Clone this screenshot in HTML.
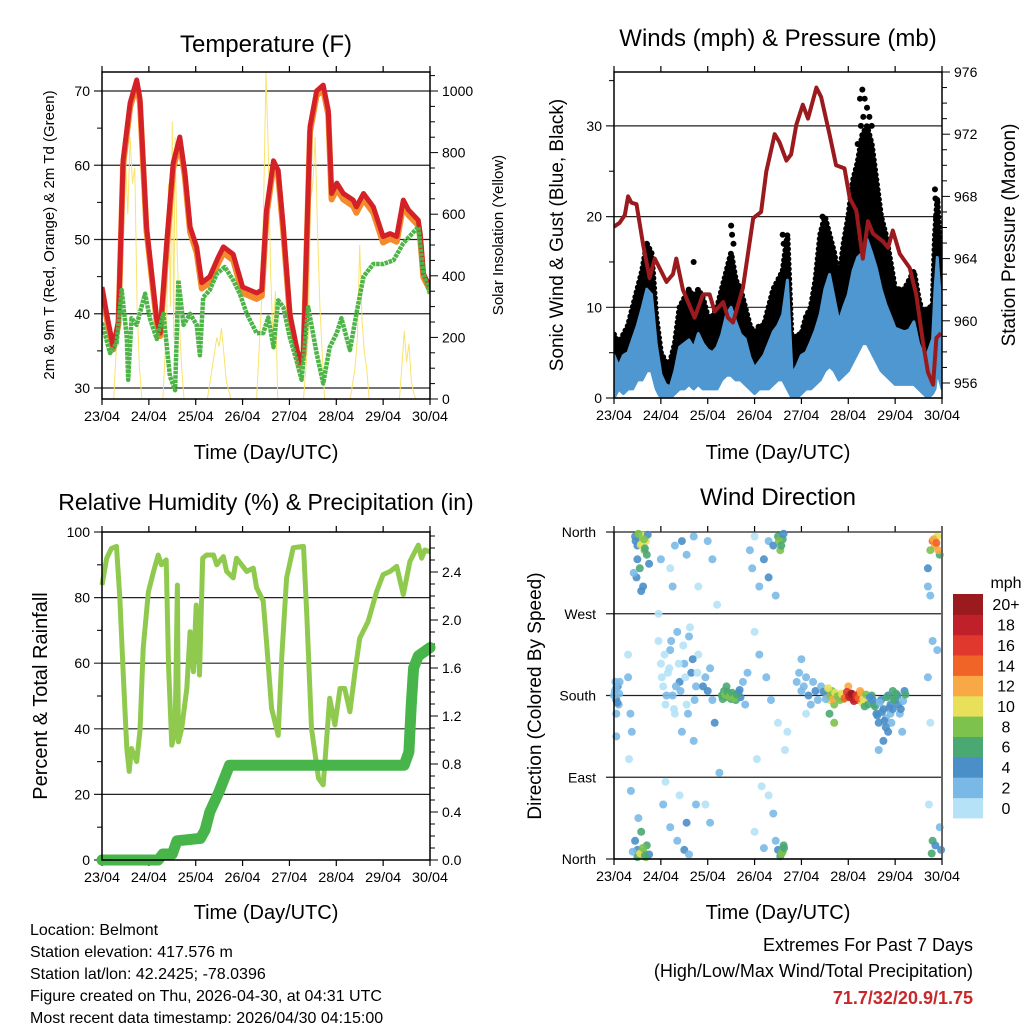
<!DOCTYPE html>
<html><head><meta charset="utf-8"><style>
html,body{margin:0;padding:0;background:#fff}
svg{display:block}
text{font-family:"Liberation Sans",sans-serif;fill:#000}
</style></head><body>
<svg id="root" width="1024" height="1024" viewBox="0 0 1024 1024" xmlns="http://www.w3.org/2000/svg">
<g id="g"></g>
</svg>
<script>
// ---------- DATA ----------
const dayLabels=["23/04","24/04","25/04","26/04","27/04","28/04","29/04","30/04"];
// Temperature (F)
const tempT=[0,0.1,0.24,0.35,0.45,0.6,0.74,0.81,0.95,1.17,1.24,1.38,1.52,1.66,1.77,1.88,2.02,2.13,2.3,2.48,2.59,2.8,3.0,3.3,3.41,3.51,3.66,3.76,3.87,4.01,4.22,4.3,4.44,4.58,4.72,4.83,4.9,5.01,5.15,5.36,5.43,5.58,5.79,5.93,6.0,6.15,6.29,6.43,6.54,6.75,6.79,6.86,7.0];
const temp2m=[43.6,40.0,35.5,39,60.7,68.4,71.5,69,51.7,39.2,37.4,49.5,60.3,63.8,59,51.7,49,44.2,45,47.6,49,48,43.6,42.8,43.2,54,60.6,59.3,51.7,40,33.4,35,65.2,70,70.8,67.4,56.2,57.6,56.2,55.3,54.4,56.2,54.4,51.7,50.4,50.8,50.4,55.3,54,52.6,50.8,45.4,43.6];
const temp9m=[43.2,39.4,35.2,38.5,60.0,67.8,70.9,68.4,51.2,38.8,37.0,48.8,59.6,63.1,58.4,51.0,48.2,43.4,44.2,46.8,48.2,47.2,42.8,42.0,42.4,53.3,59.9,58.6,51.0,39.5,33.0,34.6,64.5,69.4,70.2,66.8,55.4,56.8,55.4,54.5,53.6,55.4,53.6,50.9,49.6,50.1,49.7,54.6,53.3,51.9,50.2,44.9,43.2];
const tdT=[0,0.17,0.31,0.42,0.53,0.56,0.63,0.74,0.92,1.02,1.17,1.31,1.45,1.56,1.63,1.74,1.88,2.02,2.09,2.16,2.3,2.45,2.62,2.8,2.94,3.09,3.3,3.44,3.55,3.66,3.76,3.87,4.01,4.15,4.26,4.4,4.58,4.72,4.86,5.01,5.11,5.29,5.43,5.58,5.79,6.0,6.22,6.43,6.75,6.86,7.0];
const dewpoint=[38.8,34.7,36,43.2,36.8,31.1,39.4,38.5,42.7,39.4,36.6,40,31.6,29.7,44.5,38.5,40,38.5,34.4,42.2,43.2,45.4,46.3,44.5,42.7,40,37.4,37.4,39.5,35.5,41.8,40.9,36.8,33.7,31.1,40.9,34.7,30.6,35.5,37.4,39.4,35.1,40,45,46.7,46.7,47.2,49.5,51.7,45.4,42.7];
const solarT=[0.25,0.35,0.4,0.45,0.5,0.55,0.6,0.65,0.7,0.75,0.8,0.85,1.3,1.38,1.42,1.46,1.5,1.53,1.56,1.6,1.65,1.7,1.75,2.25,2.35,2.45,2.5,2.55,2.6,2.65,2.75,3.3,3.4,3.45,3.5,3.55,3.6,3.65,3.7,3.75,4.3,4.4,4.45,4.5,4.55,4.6,4.65,4.7,4.75,5.3,5.4,5.45,5.5,5.55,5.6,5.65,5.7,6.35,6.42,6.45,6.5,6.55,6.6,6.65,6.7];
const solarW=[0,300,500,750,800,600,850,700,750,300,100,0,0,250,700,300,900,200,850,500,250,100,0,0,100,200,170,230,150,60,0,0,300,650,1060,800,400,200,350,0,0,200,650,700,850,550,300,150,0,0,100,200,500,250,150,100,0,0,150,220,120,180,60,20,0];
// Winds (mph)
const windT=[0,0.1,0.2,0.3,0.4,0.5,0.6,0.7,0.8,0.9,1.0,1.1,1.2,1.3,1.4,1.5,1.6,1.7,1.8,1.9,2.0,2.1,2.2,2.3,2.4,2.5,2.6,2.7,2.8,2.9,3.0,3.1,3.2,3.3,3.4,3.5,3.6,3.7,3.8,3.9,4.0,4.1,4.2,4.3,4.4,4.5,4.6,4.7,4.8,4.9,5.0,5.1,5.2,5.3,5.4,5.5,5.6,5.7,5.8,5.9,6.0,6.1,6.2,6.3,6.4,6.5,6.6,6.7,6.8,6.85,6.9,6.95,7.0];
const speedLow=[0,1,0.5,1,1,2,2,3,3,1,0,0,0,0.5,1,1,1.5,1,1.5,1,1,1,1,2,2.5,2.5,2,2,1.5,1,0.5,1,1,1,1.5,2,2,1,0,0,0.5,1,1,1.5,2,3,3.5,3,2,2.5,3,4,5,6,6,5,4,3,2.5,2,1.5,1.5,1.5,1.5,1.5,1,0.5,0,0.5,1,3,2,1];
const speedHigh=[4.7,3.5,4.7,5,6.5,8,9.9,12,11.4,6,2.6,1.5,1.2,3,5.6,6,6.4,5.5,7.1,6,5.3,5,5.6,7,9.2,10,8.4,7,6.5,4.5,3.3,4,4.7,6,7.3,8,9.2,13,2.6,3.5,4.7,5,6.2,7.5,9.2,12,13.6,11,8.4,10,11.4,14,15.5,16,17.5,16,14.3,12,10.3,9,7.7,7.5,7.3,7.5,8.4,6,4.7,5,6.5,12,15.5,12,9.2];
const gustHigh=[7,6,7,8,10,12,14,17,16,9,5,4,4,6,10,11,12,11,12,11,9,9,10,12,14,16,13,12,10,8,7,8,8,10,12,13,14,18,5,7,7,9,10,13,18,20,18,16,13,17,20,24,26,29,30,28,24,20,18,15,12,12,12,13,14,11,9,10,10,18,22,17,14];
const gustOutT=[0.7,0.72,1.7,2.5,2.52,2.55,3.6,3.62,4.45,4.47,5.2,5.25,5.3,5.32,5.35,5.4,5.45,5.5,5.27,5.42,6.85,6.86,6.87];
const gustOutV=[17,16,15,19,18,17,18,17,20,19,28,33,34,31,33,32,31,30,30,27,23,22,20];
// Pressure (mb)
const presT=[0,0.12,0.23,0.3,0.37,0.48,0.62,0.76,0.87,0.97,1.12,1.26,1.33,1.47,1.72,1.9,2.04,2.15,2.33,2.43,2.54,2.75,2.97,3.14,3.25,3.43,3.53,3.68,3.78,3.89,4.03,4.14,4.32,4.42,4.6,4.74,4.92,5.03,5.17,5.31,5.42,5.53,5.74,5.85,5.95,6.1,6.31,6.45,6.59,6.7,6.81,6.88,6.98];
const pressure=[966.05,966.3,966.8,968.0,967.6,967.5,964.9,962.75,964,963.4,962.5,963,964.0,962,960.2,961.7,961.7,960.6,961.2,960.2,959.9,962.1,966.6,967.0,969.6,972,971.5,970.3,970.7,972.6,973.9,973.0,975,974.4,972,970.0,969.8,967.9,967.1,964,966.4,965.6,965.1,964.7,965.8,964.3,963.4,961.7,958.7,956.7,955.9,958.9,959.2];
// RH (%) and precipitation (in)
const rhT=[0,0.1,0.2,0.31,0.38,0.46,0.53,0.58,0.63,0.74,0.81,0.88,0.99,1.1,1.2,1.27,1.37,1.42,1.49,1.56,1.61,1.63,1.7,1.81,1.88,1.95,2.01,2.08,2.15,2.23,2.38,2.45,2.59,2.66,2.8,2.87,3.09,3.23,3.3,3.44,3.51,3.62,3.76,3.84,3.94,4.08,4.3,4.37,4.47,4.62,4.72,4.86,4.97,5.08,5.18,5.29,5.4,5.5,5.68,5.86,6.0,6.15,6.29,6.43,6.57,6.75,6.82,6.89,7.0];
const rhVals=[83.8,92,95,95.6,80,54.4,34.1,27,34,30,39.5,64.6,81.8,87.9,93,90,91.5,59.5,35,39.1,83.8,36,40.1,52.3,69.6,57.4,77.7,56.4,92,93,93,90,92.5,88,86,92,88,89,83,79,66.6,46.2,38,62.6,86,95.2,95.6,74.8,40.1,24.9,22.9,49.3,41.2,52.3,52.3,45.2,57.4,67.6,72.7,81.8,87,88,89.5,80.9,91,96,92,94.5,94];
const precipT=[0,1.2,1.3,1.5,1.6,2.1,2.2,2.3,2.5,2.65,2.72,6.45,6.55,6.6,6.65,6.75,7.0];
const precipVals=[0,0,0.05,0.05,0.16,0.18,0.25,0.4,0.57,0.72,0.79,0.79,0.9,1.3,1.6,1.7,1.77];
// Wind direction observations
const dirT=[0.45,0.5,0.55,0.6,0.62,0.65,0.68,0.7,0.72,0.5,0.55,0.48,0.62,0.58,0.42,0.75,
0.45,0.5,0.55,0.6,0.63,0.68,0.7,0.58,0.52,0.75,0.4,
0.02,0.05,0.08,0.1,0.12,0.05,0.3,0.35,0.38,0.32,0.36,0.3,0.05,
0.95,1.0,1.05,1.1,1.15,1.2,1.25,1.3,1.35,1.4,1.45,1.5,1.55,1.6,1.65,1.7,1.75,1.8,1.0,1.2,1.3,1.45,1.55,1.7,1.8,1.25,1.05,1.2,1.35,1.5,1.55,1.6,1.4,1.75,0.95,1.1,
1.9,1.95,2.0,2.05,2.1,2.15,2.0,2.1,2.2,2.05,2.25,1.95,
2.3,2.35,2.4,2.45,2.5,2.55,2.6,2.65,2.7,2.4,2.75,2.8,2.85,
2.9,2.95,3.0,3.1,3.2,3.3,3.4,3.5,3.55,3.6,3.3,3.45,3.0,3.1,3.25,3.35,3.5,3.05,3.15,3.3,3.4,3.45,3.5,3.55,3.6,3.62,3.0,3.2,3.65,3.7,
3.9,3.95,4.0,4.05,4.1,4.15,4.2,4.25,4.3,4.35,4.1,4.0,
4.5,4.55,4.6,4.65,4.7,4.75,4.8,4.85,4.9,4.95,5.0,5.05,5.1,5.15,5.2,5.25,5.3,5.35,5.0,4.6,4.7,
5.5,5.55,5.6,5.65,5.7,5.75,5.8,5.85,5.9,5.95,6.0,6.05,6.1,6.15,6.2,5.75,5.65,
6.8,6.85,6.9,6.75,6.95,6.7,6.7,6.75,6.8,6.7,6.75,6.72,6.8,6.95,6.98,6.9,
0.46,0.52,0.57,0.64,0.66,0.5,0.56,0.61,0.66,0.0,0.04,0.07,0.11,0.03,1.02,1.08,1.12,1.18,1.22,1.28,1.32,1.38,1.42,1.48,1.52,1.58,1.62,1.68,1.72,1.78,
2.32,2.37,2.42,2.47,2.52,2.57,2.62,2.68,3.52,3.57,3.62,3.58,3.63,
4.42,4.47,4.52,4.57,4.62,4.67,4.72,4.77,4.82,4.87,4.92,4.97,5.02,5.07,5.12,5.17,5.22,5.27,5.32,5.38,5.42,5.46,
5.52,5.57,5.62,5.67,5.72,5.77,5.82,5.87,5.92,5.97,6.02,6.07,6.12,6.17,6.22,5.8,5.85,5.9,5.95,
6.82,6.88,6.92,6.78,6.86];
const dirDeg=[355,345,352,348,356,340,350,335,357,330,320,310,300,295,315,325,
20,10,5,3,8,2,15,30,45,5,8,
185,175,190,170,195,160,200,160,140,110,75,225,135,
240,215,190,170,205,230,180,160,250,195,140,215,170,245,205,130,190,225,330,320,345,350,335,355,300,300,60,35,20,10,40,5,70,60,270,85,
190,200,185,210,175,150,350,330,280,40,95,60,
180,185,178,182,176,180,175,183,178,190,195,170,205,
340,320,355,300,330,350,345,355,340,352,310,290,250,225,200,175,150,110,80,70,50,20,10,3,8,15,30,12,120,140,
195,205,185,190,200,180,170,195,185,175,160,220,
185,180,175,185,170,180,178,182,176,180,178,182,176,180,175,185,172,168,190,160,150,
180,170,160,150,175,165,155,180,170,185,175,180,160,140,185,130,120,
350,345,355,340,335,320,300,290,240,200,150,60,20,35,10,230,
350,358,346,352,342,2,6,12,4,180,188,172,182,195,200,225,180,210,240,165,190,215,185,235,200,160,255,220,175,205,
176,181,184,179,183,177,181,186,350,345,358,6,12,
190,184,176,188,180,176,183,179,175,181,177,184,179,182,174,180,177,183,176,181,170,178,
175,168,158,172,162,152,178,166,150,176,182,170,165,174,181,145,140,160,165,
352,348,340,6,15];
const dirSpd=[4,5,9,10,11,8,10,6,4,5,7,4,5,4,3,4,
4,5,9,11,8,9,6,7,3,4,3,
3,4,4,2,3,2,2,2,2,1,2,1,2,
1,0,1,0,1,2,3,1,2,4,2,3,1,2,4,2,3,1,3,1,3,4,2,3,1,2,2,2,3,4,5,3,1,2,1,1,
4,2,5,3,2,4,3,2,1,2,3,1,
6,7,8,9,7,6,6,5,4,6,3,2,3,
2,3,1,2,4,3,4,6,8,7,4,3,1,2,3,2,1,1,0,1,2,3,5,7,9,6,1,2,1,0,
2,3,2,3,2,4,3,2,4,3,1,2,
10,12,11,9,8,7,9,10,13,15,17,18,19,17,14,12,10,7,12,7,8,
6,5,4,4,5,4,3,5,4,6,6,5,3,3,5,4,3,
14,13,11,8,6,4,3,2,2,2,1,0,6,3,4,2,
5,8,10,9,7,6,10,8,7,3,2,4,3,2,1,0,2,1,3,0,2,1,3,1,0,2,1,4,2,1,
7,8,6,9,7,8,6,5,9,7,5,8,6,
3,4,3,10,9,12,11,8,9,11,14,16,18,20,19,17,15,13,11,9,6,4,
5,6,4,3,5,4,6,5,3,7,6,5,4,3,6,4,5,3,4,
13,15,12,7,5];
const speedBinLabels=["0","2","4","6","8","10","12","14","16","18","20+"];
const speedBinColors=["#b5e2f7","#7ab9e6","#4a8fc8","#4aa873","#7cc24c","#e8e05a","#f8a845","#f06428","#e0382c","#c0202a","#9b1a1e"];

// ---------- HELPERS ----------
const NS="http://www.w3.org/2000/svg";
const G=document.getElementById('g');
function el(tag,attrs,parent,txt){const e=document.createElementNS(NS,tag);for(const k in attrs)e.setAttribute(k,attrs[k]);if(txt!==undefined)e.textContent=txt;(parent||G).appendChild(e);return e;}
function grp(name){const g=el('g',{});return g;}
function txt(parent,x,y,s,size,anchor,name,extra){const t=el('text',Object.assign({x:x,y:y,'font-size':size,'text-anchor':anchor||'middle'},extra||{}),parent,s);return t;}
function line(parent,x1,y1,x2,y2,w,c){return el('line',{x1:x1,y1:y1,x2:x2,y2:y2,stroke:c||'#000','stroke-width':w||1},parent);}
function pathFrom(xs,ys,fx,fy){let d='';for(let i=0;i<xs.length;i++)d+=(i?'L':'M')+fx(xs[i]).toFixed(1)+','+fy(ys[i]).toFixed(1);return d;}

function xAxis(g,L,R,B,T){const fx=t=>L+t*(R-L)/7;
 for(let i=0;i<=7;i++){const x=fx(i);line(g,x,B,x,B+6,1.2);line(g,x,T,x,T-6,1.2);
  txt(g,x,B+22,dayLabels[i],14,'middle','x-tick-label',{textLength:36,lengthAdjust:'spacingAndGlyphs'});}
 return fx;}

// ---------- PANEL 1: TEMPERATURE ----------
(function(){
 const L=102,R=430,T=72,B=399;
 const g=grp('temperature-panel');
 const fx=xAxis(g,L,R,B,T);
 const fy=v=>388-(v-30)*7.425;
 const fs=w=>399-w*0.308;
 const cp=el('clipPath',{id:'c1'},g);el('rect',{x:L,y:T,width:R-L,height:B-T},cp);
 for(let v=30;v<=70;v+=10){line(g,L-8,fy(v),R,fy(v),1.2,'#222');txt(g,L-12,fy(v)+5,String(v),14,'end','y-tick-label-left');}
 for(let v=35;v<=70;v+=10){line(g,L-5,fy(v),L,fy(v),1);}
 for(let w=0;w<=1050;w+=50){const major=w%200===0;line(g,R,fs(w),R+(major?8:5),fs(w),1);if(major)txt(g,R+12,fs(w)+5,String(w),14,'start','y-tick-label-right');}
 const d=el('g',{'clip-path':'url(#c1)'},g);
 const s=el('path',{d:pathFrom(solarT,solarW,fx,fs),fill:'none',stroke:'#f9e36b','stroke-width':1},d);
 
 const o=el('path',{d:pathFrom(tempT,temp9m,fx,fy),fill:'none',stroke:'#f38a2c','stroke-width':6,'stroke-linejoin':'round'},d);
 
 const r=el('path',{d:pathFrom(tempT,temp2m,fx,fy),fill:'none',stroke:'#d42127','stroke-width':5,'stroke-linejoin':'round'},d);
 
 const gd=el('path',{d:pathFrom(tdT,dewpoint,fx,fy),fill:'none',stroke:'#4db548','stroke-width':4.5,'stroke-dasharray':'3.5 0.8','stroke-linejoin':'round'},d);
 
 el('rect',{x:L,y:T,width:R-L,height:B-T,fill:'none',stroke:'#000','stroke-width':1.5},g);
 txt(g,266,52,'Temperature (F)',24,'middle','temperature-title');
 txt(g,266,459,'Time (Day/UTC)',20,'middle','x-axis-title');
 txt(g,0,0,'2m & 9m T (Red, Orange) & 2m Td (Green)',15,'middle','y-axis-title-left',{transform:'translate(54,235) rotate(-90)'});
 txt(g,0,0,'Solar Insolation (Yellow)',15,'middle','y-axis-title-right',{transform:'translate(503,235) rotate(-90)'});
})();

// ---------- PANEL 2: WINDS & PRESSURE ----------
(function(){
 const L=614,R=942,T=72,B=398;
 const g=grp('winds-panel');
 const fx=xAxis(g,L,R,B,T);
 const fy=v=>398-v*9.07;
 const fp=p=>383-(p-956)*15.55;
 const cp=el('clipPath',{id:'c2'},g);el('rect',{x:L,y:T,width:R-L,height:B-T},cp);
 for(let v=0;v<=35;v+=5){const major=v%10===0;line(g,L-(major?8:5),fy(v),major?R:L,fy(v),1.2,'#222');if(major)txt(g,L-12,fy(v)+5,String(v),14,'end','y-tick-label-left');}
 for(let p=955;p<=977;p++){const y=fp(p);if(y<T-1||y>B)continue;const major=(p-956)%4===0;line(g,R,y,R+(major?8:5),y,1);if(major)txt(g,R+12,y+5,String(p),14,'start','y-tick-label-right');}
 const d=el('g',{'clip-path':'url(#c2)'},g);
 let top='',bot='';
 for(let i=0;i<windT.length;i++){top+=(i?'L':'M')+fx(windT[i]).toFixed(1)+','+fy(gustHigh[i]).toFixed(1);}
 for(let i=windT.length-1;i>=0;i--){bot+='L'+fx(windT[i]).toFixed(1)+','+fy(speedLow[i]).toFixed(1);}
 const gb=el('path',{d:top+bot+'Z',fill:'#000',stroke:'#000','stroke-width':2,'stroke-linejoin':'round'},d);
 
 const ge=el('path',{d:top,fill:'none',stroke:'#000','stroke-width':6,'stroke-linecap':'round','stroke-dasharray':'0 5'},d);
 
 for(let i=0;i<gustOutT.length;i++){const c=el('circle',{cx:fx(gustOutT[i]),cy:fy(gustOutV[i]),r:3,fill:'#000'},d);
  }
 let t2='',b2='';
 for(let i=0;i<windT.length;i++){t2+=(i?'L':'M')+fx(windT[i]).toFixed(1)+','+fy(speedHigh[i]).toFixed(1);}
 for(let i=windT.length-1;i>=0;i--){b2+='L'+fx(windT[i]).toFixed(1)+','+fy(speedLow[i]).toFixed(1);}
 const sb=el('path',{d:t2+b2+'Z',fill:'#4e97d1',stroke:'#4e97d1','stroke-width':3,'stroke-linejoin':'round'},d);
 
 const pl=el('path',{d:pathFrom(presT,pressure,fx,fp),fill:'none',stroke:'#9b1a1e','stroke-width':4,'stroke-linejoin':'round'},d);
 
 el('rect',{x:L,y:T,width:R-L,height:B-T,fill:'none',stroke:'#000','stroke-width':1.5},g);
 txt(g,778,46,'Winds (mph) & Pressure (mb)',24,'middle','winds-title');
 txt(g,778,459,'Time (Day/UTC)',20,'middle','x-axis-title');
 txt(g,0,0,'Sonic Wind & Gust (Blue, Black)',19,'middle','y-axis-title-left',{transform:'translate(563,235) rotate(-90)'});
 txt(g,0,0,'Station Pressure (Maroon)',19,'middle','y-axis-title-right',{transform:'translate(1015,235) rotate(-90)'});
})();

// ---------- PANEL 3: RH & PRECIP ----------
(function(){
 const L=102,R=430,T=532,B=860;
 const g=grp('humidity-panel');
 const fx=xAxis(g,L,R,B,T);
 const fy=v=>860-v*3.28;
 const fr=p=>860-p*120;
 const cp=el('clipPath',{id:'c3'},g);el('rect',{x:L-6,y:T,width:R-L+12,height:B-T+6},cp);
 for(let v=0;v<=100;v+=10){const major=v%20===0;line(g,L-(major?8:5),fy(v),(major&&v>0&&v<100)?R:L,fy(v),1.2,'#222');if(major)txt(g,L-12,fy(v)+5,String(v),14,'end','y-tick-label-left');}
 for(let k=0;k<=27;k++){const p=k/10;const major=k%4===0;line(g,R,fr(p),R+(major?8:5),fr(p),1);if(major)txt(g,R+12,fr(p)+5,p.toFixed(1),14,'start','y-tick-label-right');}
 const d=el('g',{'clip-path':'url(#c3)'},g);
 const rl=el('path',{d:pathFrom(rhT,rhVals,fx,fy),fill:'none',stroke:'#8fca4f','stroke-width':5,'stroke-linejoin':'round'},d);
 
 const pl=el('path',{d:pathFrom(precipT,precipVals,fx,fr),fill:'none',stroke:'#47b549','stroke-width':11,'stroke-linejoin':'round','stroke-linecap':'round'},d);
 
 el('rect',{x:L,y:T,width:R-L,height:B-T,fill:'none',stroke:'#000','stroke-width':1.5},g);
 txt(g,266,510,'Relative Humidity (%) & Precipitation (in)',23,'middle','humidity-title');
 txt(g,266,919,'Time (Day/UTC)',20,'middle','x-axis-title');
 txt(g,0,0,'Percent & Total Rainfall',20,'middle','y-axis-title-left',{transform:'translate(47,696) rotate(-90)'});
})();

// ---------- PANEL 4: WIND DIRECTION ----------
(function(){
 const L=614,R=942,T=532,B=859;
 const g=grp('wind-direction-panel');
 const fx=xAxis(g,L,R,B,T);
 const fy=d=>859-d/360*327;
 const names=["North","East","South","West","North"];
 for(let i=0;i<=4;i++){const y=fy(i*90);line(g,L-8,y,R,y,1.2,'#222');txt(g,L-18,y+5,names[i],14,'end','direction-tick-label');}
 const d=el('g',{},g);
 for(let i=0;i<dirT.length;i++){const bin=Math.min(10,Math.floor(dirSpd[i]/2));
  const c=el('circle',{cx:fx(dirT[i]).toFixed(1),cy:fy(dirDeg[i]).toFixed(1),r:4,fill:speedBinColors[bin],'fill-opacity':0.9},d);
  }
 line(g,L,T,L,B,1.5);line(g,R,T-6,R,B+6,2,'#666');line(g,L,B,R,B,1.5);
 txt(g,778,505,'Wind Direction',24,'middle','wind-direction-title');
 txt(g,778,919,'Time (Day/UTC)',20,'middle','x-axis-title');
 txt(g,0,0,'Direction (Colored By Speed)',19,'middle','y-axis-title-left',{transform:'translate(541,696) rotate(-90)'});
 const lg=grp('speed-colorbar');
 txt(lg,1006,588,'mph',16,'middle','colorbar-title');
 const bh=(818-594)/11;
 for(let i=0;i<11;i++){const y=818-(i+1)*bh;
  const r=el('rect',{x:953,y:y.toFixed(1),width:30,height:(bh+0.4).toFixed(1),fill:speedBinColors[i]},lg);
  
  txt(lg,1006,y+bh/2+6,speedBinLabels[i],16,'middle','colorbar-label');}
})();

// ---------- FOOTER ----------
(function(){
 const g=grp('station-info');
 const lines=["Location: Belmont","Station elevation: 417.576 m","Station lat/lon: 42.2425; -78.0396","Figure created on Thu, 2026-04-30, at 04:31 UTC","Most recent data timestamp: 2026/04/30 04:15:00"];
 lines.forEach((s,i)=>txt(g,30,935+i*22,s,16,'start','station-info-line'));
 const e=grp('extremes-summary');
 txt(e,973,951,'Extremes For Past 7 Days',18,'end','extremes-title');
 txt(e,973,977,'(High/Low/Max Wind/Total Precipitation)',18,'end','extremes-subtitle');
 const v=txt(e,973,1004,'71.7/32/20.9/1.75',18,'end','extremes-values',{'font-weight':'bold'});
 v.style.fill='#c8282a';
})();
</script>
</body></html>
